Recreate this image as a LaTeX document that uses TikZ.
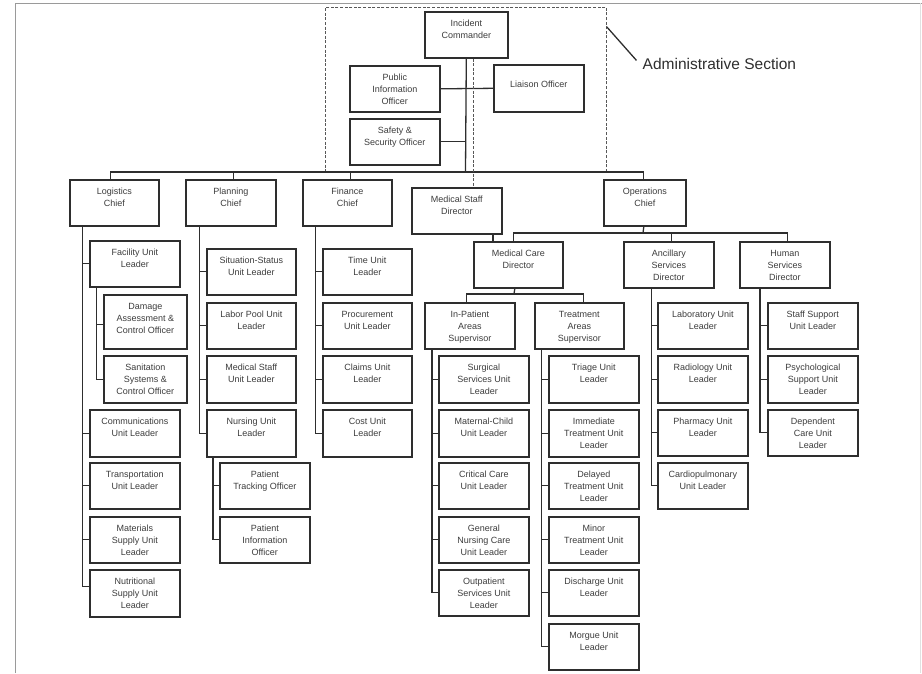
\documentclass[tikz,border=0pt]{standalone}
\usepackage{fontspec}
\setmainfont{Liberation Sans}
\definecolor{ink}{HTML}{2E2E2E}
\definecolor{txt}{HTML}{3C3C3C}
\definecolor{frame}{HTML}{9A9A9A}
% \orgbox[extra top offset]{name}{left}{top}{width}{height}{text}
\newcommand\orgbox[7][0]{\node[box] (#2) at (#3,#4) {\parbox[c][#6pt][t]{#5pt}{\centering\vspace*{\dimexpr7.8pt+#1pt\relax}\rule{0pt}{7pt}#7}};}
\begin{document}
\begin{tikzpicture}[x=1pt,y=-1pt,
  box/.style={draw=ink, line width=1.6pt, inner sep=0pt, anchor=north west, text=txt, font=\fontsize{9}{12}\selectfont},
  conn/.style={draw=ink, line width=1.3pt},
  dashln/.style={draw=ink!80, line width=0.9pt, dash pattern=on 3pt off 1.6pt},
  framel/.style={draw=frame, line width=0.9pt}]
\useasboundingbox (0,0) rectangle (922,673);
% page frame
\coordinate (f1) at (15,673);
\coordinate (f2) at (15,3);
\coordinate (f3) at (922,3);
\draw[framel] (f1) -- (f2) -- (f3);
\coordinate (f4) at (920,3);
\coordinate (f5) at (920,673);
\draw[draw=frame!30, line width=0.6pt] (f4) -- (f5);

% administrative section
\node[dashln, draw, minimum width=281pt, minimum height=164pt, inner sep=0pt, anchor=north west] (adm) at (325,7) {};
\node[anchor=base west, inner sep=0pt, text=ink, font=\fontsize{15.5}{18}\selectfont] (admlab) at (642.5,69) {Administrative Section};
\draw[conn, line width=1.3pt] ([yshift=-20pt]adm.north east) -- ([xshift=-6pt,yshift=3pt]admlab.west);

\orgbox{ic}{424}{11}{83}{46}{Incident\\Commander}
\orgbox{pio}{349}{65}{90}{46}{Public\\Information\\Officer}
\orgbox{sso}{349}{118}{90}{46}{Safety \&\\Security Officer}
\orgbox[8]{lo}{493}{64}{90}{47}{Liaison Officer}

\orgbox{log}{69}{179}{89}{46}{Logistics\\Chief}
\orgbox{pla}{185}{179}{90}{46}{Planning\\Chief}
\orgbox{fin}{302}{179}{89}{46}{Finance\\Chief}
\orgbox{msd}{411}{187}{90}{46}{Medical Staff\\Director}
\orgbox{ops}{603}{179}{82}{46}{Operations\\Chief}

\orgbox{mcd}{473}{241}{89}{46}{Medical Care\\Director}
\orgbox{anc}{623}{241}{90}{46}{Ancillary\\Services\\Director}
\orgbox{hum}{739}{241}{90}{46}{Human\\Services\\Director}

\orgbox{inp}{424}{302}{90}{46}{In-Patient\\Areas\\Supervisor}
\orgbox{trt}{534}{302}{89}{46}{Treatment\\Areas\\Supervisor}

% in-patient children
\orgbox{sur}{438}{355}{90}{47}{Surgical\\Services Unit\\Leader}
\orgbox{mat}{438}{409}{90}{47}{Maternal-Child\\Unit Leader}
\orgbox{cri}{438}{462}{90}{46}{Critical Care\\Unit Leader}
\orgbox{gen}{438}{516}{90}{46}{General\\Nursing Care\\Unit Leader}
\orgbox{out}{438}{569}{90}{46}{Outpatient\\Services Unit\\Leader}
% treatment children
\orgbox{tri}{548}{355}{90}{47}{Triage Unit\\Leader}
\orgbox{imm}{548}{409}{90}{47}{Immediate\\Treatment Unit\\Leader}
\orgbox{del}{548}{462}{90}{46}{Delayed\\Treatment Unit\\Leader}
\orgbox{min}{548}{516}{90}{46}{Minor\\Treatment Unit\\Leader}
\orgbox{dis}{548}{569}{90}{46}{Discharge Unit\\Leader}
\orgbox{mor}{548}{623}{90}{46}{Morgue Unit\\Leader}

% logistics children
\orgbox{fac}{89}{240}{90}{46}{Facility Unit\\Leader}
\orgbox{dam}{103}{294}{83}{54}{Damage\\Assessment \&\\Control Officer}
\orgbox{san}{103}{355}{83}{47}{Sanitation\\Systems \&\\Control Officer}
\orgbox{com}{89}{409}{90}{47}{Communications\\Unit Leader}
\orgbox{tra}{89}{462}{90}{46}{Transportation\\Unit Leader}
\orgbox{mtl}{89}{516}{90}{46}{Materials\\Supply Unit\\Leader}
\orgbox{nut}{89}{569}{90}{47}{Nutritional\\Supply Unit\\Leader}

% planning children
\orgbox{sit}{206}{248}{89}{46}{Situation-Status\\Unit Leader}
\orgbox{lab}{206}{302}{89}{46}{Labor Pool Unit\\Leader}
\orgbox{mst}{206}{355}{89}{47}{Medical Staff\\Unit Leader}
\orgbox{nur}{206}{409}{89}{47}{Nursing Unit\\Leader}
\orgbox{ptr}{219}{462}{90}{46}{Patient\\Tracking Officer}
\orgbox{pin}{219}{516}{90}{46}{Patient\\Information\\Officer}

% finance children
\orgbox{tim}{322}{248}{89}{46}{Time Unit\\Leader}
\orgbox{pro}{322}{302}{89}{46}{Procurement\\Unit Leader}
\orgbox{cla}{322}{355}{89}{47}{Claims Unit\\Leader}
\orgbox{cos}{322}{409}{89}{47}{Cost Unit\\Leader}

% ancillary children
\orgbox{lbr}{657}{302}{90}{46}{Laboratory Unit\\Leader}
\orgbox{rad}{657}{355}{90}{47}{Radiology Unit\\Leader}
\orgbox{pha}{657}{409}{90}{46}{Pharmacy Unit\\Leader}
\orgbox{car}{657}{462}{90}{46}{Cardiopulmonary\\Unit Leader}

% human services children
\orgbox{sta}{767}{302}{90}{46}{Staff Support\\Unit Leader}
\orgbox{psy}{767}{355}{90}{47}{Psychological\\Support Unit\\Leader}
\orgbox{dep}{767}{409}{90}{46}{Dependent\\Care Unit\\Leader}

% ---- connectors: top
\coordinate (bus) at (465.5,172);
\draw[conn] (ic.south) -- (bus);
\draw[conn] ([xshift=-3.5pt]log.north) |- (bus) -| ([xshift=-1pt]ops.north);
\draw[conn] ([xshift=3pt]pla.north) |- (bus);
\draw[conn] ([xshift=3.5pt]fin.north) |- (bus);
\draw[conn] (pio.east) -- (lo.west);
\draw[conn] (sso.east) -- (sso.east -| ic.south);
\draw[dashln] ([xshift=7pt]ic.south) -- ([xshift=7pt]ic.south |- msd.north);

% operations bus
\coordinate (obus) at (643,233);
\draw[conn] ([xshift=-1pt]ops.south) -- (obus);
\draw[conn] ([xshift=-4.5pt]mcd.north) |- (obus) -| ([xshift=3pt]hum.north);
\draw[conn] ([xshift=3pt]anc.north) -- ([xshift=3pt]anc.north |- obus);
\draw[conn] ([xshift=20pt]mcd.north west) -- ([xshift=20pt]mcd.north west |- msd.south);

% medical care to supervisors
\coordinate (mbus) at (514,294);
\draw[conn] ([xshift=-3.5pt]mcd.south) -- (mbus);
\draw[conn] ([xshift=-3pt]inp.north) |- (mbus) -| ([xshift=4.5pt]trt.north);

% spines
\foreach \c in {sur,mat,cri,gen,out} \draw[conn] ([xshift=8pt]inp.south west) |- (\c.west);
\foreach \c in {tri,imm,del,min,dis,mor} \draw[conn] ([xshift=7.7pt]trt.south west) |- (\c.west);
\foreach \c in {fac,com,tra,mtl} \draw[conn] ([xshift=13.7pt]log.south west) |- (\c.west);
\draw[conn] ([xshift=13.7pt]log.south west) |- ([yshift=7pt]nut.west);
\draw[conn] ([xshift=7.7pt]fac.south west) |- ([yshift=-3pt]dam.west);
\draw[conn] ([xshift=7.7pt]fac.south west) |- (san.west);
\foreach \c in {sit,lab,mst,nur} \draw[conn] ([xshift=14.3pt]pla.south west) |- (\c.west);
\foreach \c in {ptr,pin} \draw[conn] ([xshift=7pt]nur.south west) |- (\c.west);
\foreach \c in {tim,pro,cla,cos} \draw[conn] ([xshift=13.3pt]fin.south west) |- (\c.west);
\foreach \c in {lbr,rad,pha,car} \draw[conn] ([xshift=28.7pt]anc.south west) |- (\c.west);
\foreach \c in {sta,psy,dep} \draw[conn] ([xshift=21pt]hum.south west) |- (\c.west);
\end{tikzpicture}
\end{document}
